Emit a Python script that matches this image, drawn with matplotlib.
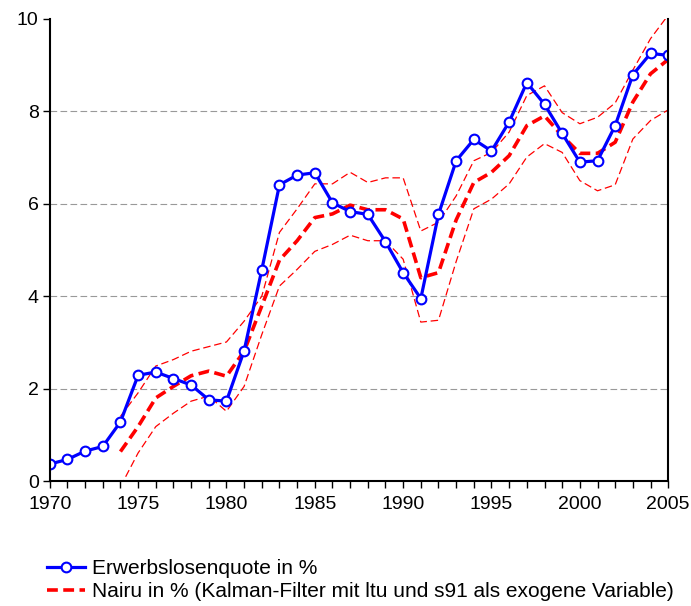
import matplotlib
matplotlib.use('Agg')
import matplotlib.pyplot as plt
from matplotlib.ticker import MultipleLocator

plt.rcParams['font.family'] = ['Liberation Sans', 'DejaVu Sans']

# Daten
years = list(range(1970, 2006))
quote = [0.37, 0.47, 0.65, 0.75, 1.28, 2.29, 2.36, 2.22, 2.08, 1.76,
         1.73, 2.82, 4.57, 6.41, 6.62, 6.67, 6.02, 5.83, 5.77, 5.18,
         4.51, 3.95, 5.77, 6.93, 7.39, 7.14, 7.77, 8.62, 8.15, 7.52,
         6.90, 6.93, 7.69, 8.79, 9.25, 9.21]

nairu_years = list(range(1974, 2006))
nairu = [0.64, 1.18, 1.80, 2.05, 2.28, 2.38, 2.27, 2.81, 3.79, 4.78,
         5.20, 5.70, 5.78, 5.97, 5.87, 5.87, 5.67, 4.40, 4.51, 5.65,
         6.46, 6.68, 7.04, 7.69, 7.90, 7.47, 7.09, 7.09, 7.33, 8.20,
         8.81, 9.12]
upper = [1.40, 1.91, 2.49, 2.63, 2.81, 2.91, 3.01, 3.46, 4.00, 5.38,
         5.89, 6.43, 6.43, 6.68, 6.46, 6.56, 6.56, 5.41, 5.60, 6.17,
         6.93, 7.11, 7.55, 8.34, 8.55, 7.97, 7.73, 7.87, 8.18, 8.89,
         9.57, 10.08]
lower = [-0.12, 0.61, 1.18, 1.47, 1.73, 1.84, 1.51, 2.05, 3.17, 4.22,
         4.58, 4.97, 5.12, 5.32, 5.20, 5.20, 4.80, 3.44, 3.48, 4.75,
         5.89, 6.10, 6.43, 7.01, 7.30, 7.11, 6.50, 6.28, 6.41, 7.40,
         7.80, 8.03]

fig = plt.figure(figsize=(6.91, 6.06), dpi=100)
ax = fig.add_axes([0.072, 0.206, 0.895, 0.763])

for y in [0, 2, 4, 6, 8]:
    ax.axhline(y, color='#999999', linestyle=(0, (6, 3)), linewidth=0.8, zorder=0)

ax.plot(nairu_years, upper, color='red', linestyle=(0, (6, 3)), linewidth=0.9)
ax.plot(nairu_years, lower, color='red', linestyle=(0, (6, 3)), linewidth=0.9)
l2, = ax.plot(nairu_years, nairu, color='red', linestyle=(0, (3, 1.5)), linewidth=2.6,
              label='Nairu in % (Kalman-Filter mit ltu und s91 als exogene Variable)')
l1, = ax.plot(years, quote, color='blue', linewidth=2.3, marker='o', markersize=7,
              markerfacecolor='white', markeredgecolor='blue', markeredgewidth=1.5,
              label='Erwerbslosenquote in %')

ax.set_xlim(1970, 2005)
ax.set_ylim(0, 10)
ax.xaxis.set_major_locator(MultipleLocator(5))
ax.xaxis.set_minor_locator(MultipleLocator(1))
ax.yaxis.set_major_locator(MultipleLocator(2))
ax.spines['top'].set_visible(False)
for s in ['left', 'right', 'bottom']:
    ax.spines[s].set_linewidth(1.5)
ax.tick_params(axis='x', which='both', direction='out', length=5, width=1, labelsize=14, pad=6)
ax.tick_params(axis='y', direction='out', length=5, width=1, labelsize=14, pad=3)
ax.tick_params(axis='y', which='both', right=False)

fig.legend(handles=[l1, l2], loc='upper left', bbox_to_anchor=(0.053, 0.095),
           frameon=False, fontsize=15, handlelength=1.8, handletextpad=0.35,
           labelspacing=0.2, borderpad=0)

fig.savefig('out.png', dpi=100)
